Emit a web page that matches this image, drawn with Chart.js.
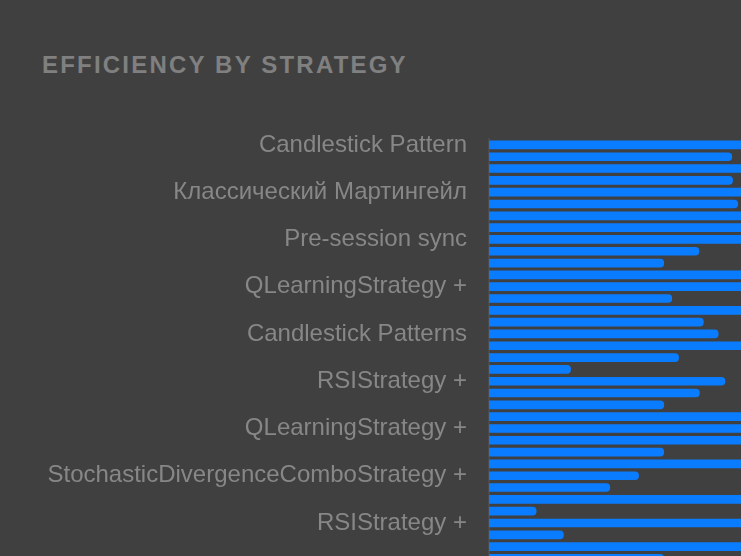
<!DOCTYPE html>
<html>
<head>
<meta charset="utf-8">
<script src="https://cdn.jsdelivr.net/npm/chart.js@4/dist/chart.umd.min.js"></script>
<style>
  html, body { margin: 0; padding: 0; background: #404040; overflow: hidden; width: 741px; height: 556px; }
  #title { position: absolute; left: 42px; top: 50px; font-family: "Liberation Sans", Arial, sans-serif; font-weight: bold; font-size: 24px; letter-spacing: 2.2px; color: #808080; margin: 0; line-height: 30px; }
  #wrap { position: absolute; left: 0; top: 0; width: 889px; height: 648px; }
</style>
</head>
<body>
<div id="title">EFFICIENCY BY STRATEGY</div>
<div id="wrap"><canvas id="c"></canvas></div>
<script>
const categories = [
  "Candlestick Pattern", "MACDStrategy +", "Bollinger Bands", "Grid Trading",
  "Классический Мартингейл", "EMA Crossover", "Scalping Bot", "Mean Reversion",
  "Pre-session sync", "Breakout Strategy", "Momentum +", "Trend Following",
  "QLearningStrategy +", "Arbitrage", "Ichimoku Cloud", "Fibonacci Retracement",
  "Candlestick Patterns", "Volume Profile", "Pairs Trading", "Stochastic +",
  "RSIStrategy +", "Martingale", "DCA Strategy", "Parabolic SAR",
  "QLearningStrategy +", "MACDStrategy +", "Heikin Ashi", "Support Resistance",
  "StochasticDivergenceComboStrategy +", "Range Trading", "Swing Trading", "News Trading",
  "RSIStrategy +", "Bollinger Squeeze", "Turtle Trading", "Price Action",
  "Candlestick Pattern", "EMA Ribbon", "Momentum +", "Grid Trading"
];
const efficiency = [
  92, 60.7, 85, 60.9,
  88, 62.2, 95, 80,
  90, 52.5, 43.7, 84,
  87, 45.7, 79, 53.6,
  57.3, 91, 47.4, 20.4,
  59, 52.6, 43.7, 83,
  86, 88, 43.7, 93,
  37.4, 30.2, 89, 11.8,
  94, 18.6, 82, 43.7,
  90, 43.7, 75, 66
];
const labelStep = 4;

new Chart(document.getElementById('c'), {
  type: 'bar',
  data: {
    labels: categories,
    datasets: [{
      data: efficiency,
      backgroundColor: '#0a7cff',
      borderRadius: 4,
      borderSkipped: 'start',
      barThickness: 8
    }]
  },
  options: {
    indexAxis: 'y',
    responsive: true,
    maintainAspectRatio: false,
    animation: false,
    layout: { padding: { top: 139, bottom: 0, left: 0, right: 0 } },
    plugins: { legend: { display: false }, title: { display: false }, tooltip: { enabled: false } },
    scales: {
      x: { display: false, min: 0, max: 100 },
      y: {
        grid: { display: false, drawTicks: false },
        border: { display: true, color: '#4a4a4a', width: 2 },
        afterFit: (scale) => { scale.width = 489; },
        ticks: {
          autoSkip: false,
          padding: 22,
          color: '#878787',
          font: { family: '"Liberation Sans", Arial, sans-serif', size: 24 },
          callback: function(value, index) { return index % labelStep === 0 ? this.getLabelForValue(value) : ''; }
        }
      }
    }
  }
});
</script>
</body>
</html>
